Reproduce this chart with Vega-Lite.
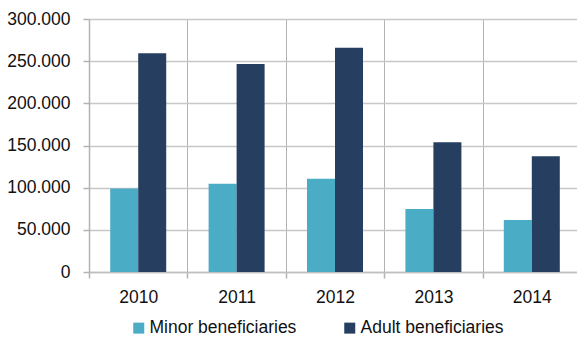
{
  "$schema": "https://vega.github.io/schema/vega-lite/v6.json",
  "width": 488,
  "height": 253,
  "autosize": "none",
  "padding": {"left": 89, "top": 19, "right": 0, "bottom": 65},
  "data": {
    "values": [
      {"year": "2010", "group": "Minor beneficiaries", "value": 99000},
      {"year": "2010", "group": "Adult beneficiaries", "value": 259500},
      {"year": "2011", "group": "Minor beneficiaries", "value": 104700},
      {"year": "2011", "group": "Adult beneficiaries", "value": 246500},
      {"year": "2012", "group": "Minor beneficiaries", "value": 110500},
      {"year": "2012", "group": "Adult beneficiaries", "value": 266000},
      {"year": "2013", "group": "Minor beneficiaries", "value": 74700},
      {"year": "2013", "group": "Adult beneficiaries", "value": 153800},
      {"year": "2014", "group": "Minor beneficiaries", "value": 61700},
      {"year": "2014", "group": "Adult beneficiaries", "value": 137200}
    ]
  },
  "mark": {"type": "bar"},
  "encoding": {
    "x": {
      "field": "year",
      "type": "nominal",
      "scale": {"range": [0, 492], "paddingInner": 0, "paddingOuter": 0},
      "axis": {
        "title": null,
        "labelAngle": 0,
        "tickBand": "extent",
        "grid": true,
        "gridColor": "#b3b3b3",
        "gridWidth": 1,
        "domainColor": "#bfbfbf",
        "domainWidth": 1.5,
        "tickColor": "#b3b3b3",
        "tickSize": 6,
        "tickWidth": 1.5,
        "labelPadding": 10,
        "labelFontSize": 17.5,
        "labelColor": "#111111"
      }
    },
    "xOffset": {
      "field": "group",
      "type": "nominal",
      "sort": ["Minor beneficiaries", "Adult beneficiaries"],
      "scale": {"paddingOuter": 0.757, "paddingInner": 0}
    },
    "y": {
      "field": "value",
      "type": "quantitative",
      "scale": {"domain": [0, 300000]},
      "axis": {
        "title": null,
        "values": [0, 50000, 100000, 150000, 200000, 250000, 300000],
        "labelExpr": "replace(format(datum.value, ','), ',', '.')",
        "grid": true,
        "gridColor": "#c8c8c8",
        "gridWidth": 1.5,
        "domainColor": "#b3b3b3",
        "domainWidth": 1.5,
        "tickColor": "#b3b3b3",
        "tickSize": 6,
        "tickWidth": 1.5,
        "labelPadding": 13,
        "labelFontSize": 17.5,
        "labelColor": "#111111"
      }
    },
    "color": {
      "field": "group",
      "type": "nominal",
      "scale": {
        "domain": ["Minor beneficiaries", "Adult beneficiaries"],
        "range": ["#4BACC6", "#263F60"]
      },
      "legend": {
        "title": null,
        "orient": "none",
        "direction": "horizontal",
        "legendX": 41,
        "legendY": 300,
        "symbolType": "square",
        "symbolSize": 121,
        "symbolStrokeWidth": 0,
        "labelFontSize": 17.5,
        "labelOffset": 2,
        "labelColor": "#111111",
        "columnPadding": 44,
        "padding": 0
      }
    }
  },
  "config": {
    "view": {"stroke": null},
    "font": "Liberation Sans"
  }
}
